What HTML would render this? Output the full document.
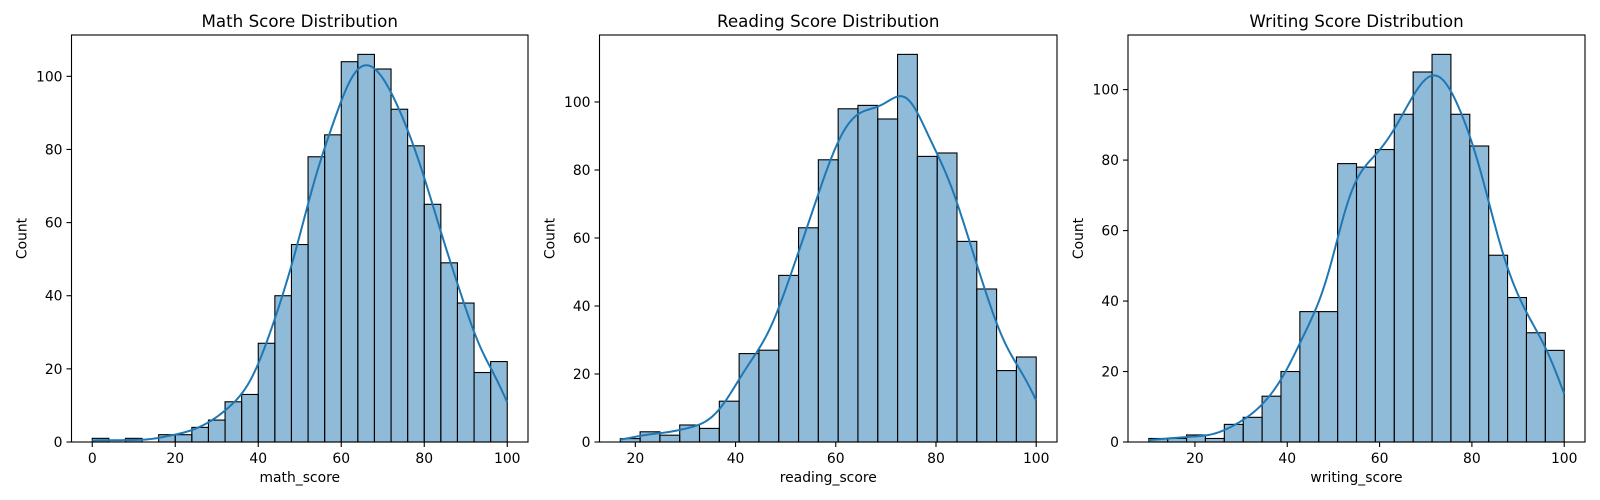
<!DOCTYPE html>
<html><head><meta charset="utf-8"><style>
body{margin:0;background:#fff}
svg{display:block;font-family:"DejaVu Sans","Liberation Sans",sans-serif}
</style></head><body>
<svg id="fig" width="1600" height="500" viewBox="0 0 1600 500"></svg>
<script>
const mathCounts=[1,0,1,0,2,2,4,6,11,13,27,40,54,78,84,104,106,102,91,81,65,49,38,19,22];
const readingCounts=[1,3,2,5,4,12,26,27,49,63,83,98,99,95,114,84,85,59,45,21,25];
const writingCounts=[1,1,2,1,5,7,13,20,37,37,79,78,83,93,105,110,93,84,53,41,31,26];
const mathRange=[0,100];
const readingRange=[17,100];
const writingRange=[10,100];
const yTicks=[0,20,40,60,80,100];
const mathXTicks=[0,20,40,60,80,100];
const readingXTicks=[20,40,60,80,100];
const writingXTicks=[20,40,60,80,100];
const titles=["Math Score Distribution","Reading Score Distribution","Writing Score Distribution"];
const xLabels=["math_score","reading_score","writing_score"];

const SVGNS="http://www.w3.org/2000/svg";
const figEl=document.getElementById('fig');
function mk(tag,attrs,parent){const e=document.createElementNS(SVGNS,tag);for(const k in attrs)e.setAttribute(k,attrs[k]);(parent||figEl).appendChild(e);return e;}

const panels=[
 {x0:71.5,x1:528,counts:mathCounts,range:mathRange,xt:mathXTicks,slug:'math'},
 {x0:599.5,x1:1057,counts:readingCounts,range:readingRange,xt:readingXTicks,slug:'reading'},
 {x0:1128,x1:1585,counts:writingCounts,range:writingRange,xt:writingXTicks,slug:'writing'}];
const axTop=35,axBot=442;

panels.forEach((p,pi)=>{
 const g=mk('g',{});
 
 
 const lo=p.range[0],hi=p.range[1],span=hi-lo,xmin=lo-0.05*span,xmax=hi+0.05*span;
 const ymax=Math.max(...p.counts)*1.05;
 const sx=v=>p.x0+(v-xmin)/(xmax-xmin)*(p.x1-p.x0);
 const sy=v=>axBot-v/ymax*(axBot-axTop);
 const n=p.counts.length,bw=span/n;
 p.counts.forEach((c,i)=>{
  if(c<=0)return;
  const r=mk('rect',{x:sx(lo+i*bw),y:sy(c),width:sx(lo+(i+1)*bw)-sx(lo+i*bw),height:axBot-sy(c),fill:'rgba(31,119,180,0.5)',stroke:'#000','stroke-width':1.1},g);
  
  
 });
 let N=0,m=0;p.counts.forEach((c,i)=>{N+=c;m+=c*(lo+(i+.5)*bw);});m/=N;
 let v=0;p.counts.forEach((c,i)=>{const x=lo+(i+.5)*bw;v+=c*(x-m)*(x-m);});v/=N;
 const h0=Math.pow(N,-0.2)*Math.sqrt(v);
 const h=Math.sqrt(Math.max(h0*h0-bw*bw/12,h0*h0*0.3));
 let d='';
 for(let k=0;k<=200;k++){
  const x=lo+span*k/200;let s=0;
  p.counts.forEach((c,i)=>{const xc=lo+(i+.5)*bw;const z=(x-xc)/h;s+=c*Math.exp(-0.5*z*z);});
  const y=s/(h*Math.sqrt(2*Math.PI))*bw;
  d+=(k?'L':'M')+sx(x).toFixed(2)+','+sy(y).toFixed(2);
 }
 const kde=mk('path',{d:d,fill:'none',stroke:'#1f77b4','stroke-width':2},g);
 
 
 const fr=mk('rect',{x:p.x0,y:axTop,width:p.x1-p.x0,height:axBot-axTop,fill:'none',stroke:'#000','stroke-width':1.1},g);
 
 
 yTicks.forEach(t=>{
  const y=sy(t);
  mk('line',{x1:p.x0-5,x2:p.x0,y1:y,y2:y,stroke:'#000','stroke-width':1.1},g);
  const tx=mk('text',{x:p.x0-9,y:y+5,'font-size':'13.9','text-anchor':'end',fill:'#000'},g);
  tx.textContent=t;
  
  
 });
 p.xt.forEach(t=>{
  const x=sx(t);
  mk('line',{x1:x,x2:x,y1:axBot,y2:axBot+5,stroke:'#000','stroke-width':1.1},g);
  const tx=mk('text',{x:x,y:axBot+21,'font-size':'13.9','text-anchor':'middle',fill:'#000'},g);
  tx.textContent=t;
  
  
 });
 const ti=mk('text',{x:(p.x0+p.x1)/2,y:27,'font-size':'16.7','text-anchor':'middle',fill:'#000'},g);
 ti.textContent=titles[pi];
 
 
 const xl=mk('text',{x:(p.x0+p.x1)/2,y:482,'font-size':'13.9','text-anchor':'middle',fill:'#000'},g);
 xl.textContent=xLabels[pi];
 
 
 const yl=mk('text',{x:0,y:0,'font-size':'13.9','text-anchor':'middle',fill:'#000',transform:'translate('+(p.x0-45)+','+((axTop+axBot)/2)+') rotate(-90)'},g);
 yl.textContent='Count';
 
 
});
</script>
</body></html>
